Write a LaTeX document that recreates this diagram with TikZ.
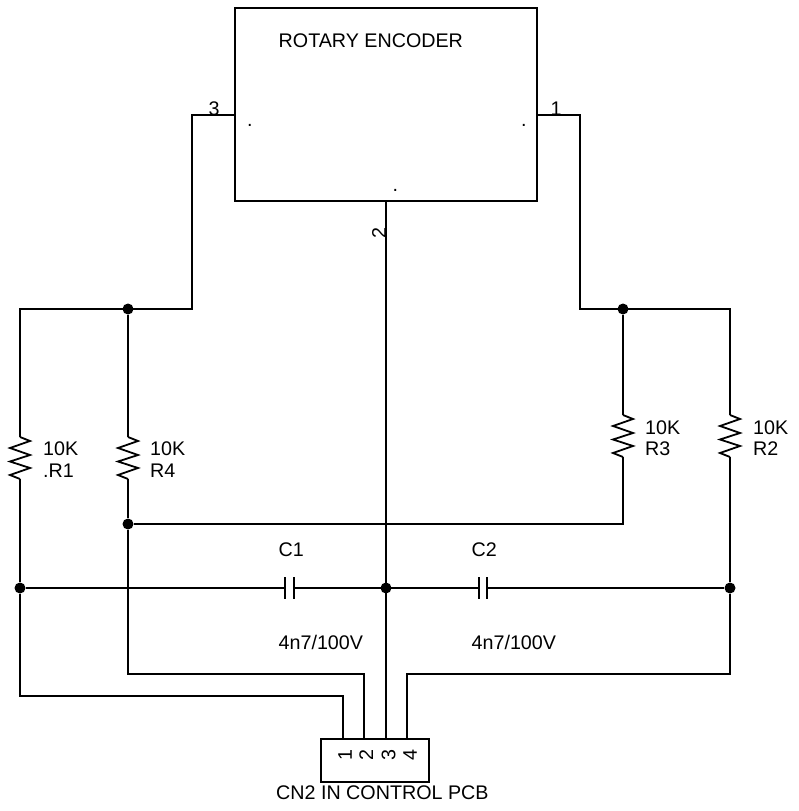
\documentclass[tikz,border=0pt]{standalone}
\usepackage{fontspec}
\setmainfont{Liberation Sans}
\tikzset{
  wire/.style={line width=1.8pt,line join=miter},
  junc/.style={circle,fill=black,draw=none,inner sep=0pt,minimum size=11pt},
  lab/.style={inner sep=0pt,anchor=base west,font=\fontsize{19.7pt}{22pt}\selectfont},
  pin/.style={inner sep=0pt,font=\fontsize{19.7pt}{22pt}\selectfont,rotate=90},
  pinh/.style={inner sep=0pt,anchor=base,font=\fontsize{19.7pt}{22pt}\selectfont}
}
\newcommand{\zig}[3]{% x, y top, name
  \draw[wire] (#1,#2) -- ++(10,4) -- ++(-20,7) -- ++(20,7) -- ++(-20,6.5) -- ++(20,6.5) -- ++(-20,7) -- ++(10,4) coordinate (#3);
}
\begin{document}
\begin{tikzpicture}[x=1pt,y=-1pt]
\useasboundingbox (0,0) rectangle (798,811);
\fill[white] (0,0) rectangle (798,811);
% Encoder and connector
\node[draw,line width=1.8pt,minimum width=302pt,minimum height=193pt,inner sep=0pt] (enc) at (386,104.5) {};
\node[draw,line width=1.8pt,minimum width=108pt,minimum height=43pt,inner sep=0pt] (cn) at (375,760.5) {};
\node[lab] (title) at (278.5,47) {ROTARY ENCODER};
\node[lab] (cnlab) at (276,799) {CN2 IN CONTROL PCB};
% routing coordinates
\coordinate (p3) at (235,115);
\coordinate (p1) at (537,115);
\coordinate (p2) at (386,201);
\coordinate (c1) at (343,739);
\coordinate (c2) at (364,739);
\coordinate (c3) at (386,739);
\coordinate (c4) at (407,739);
% junctions
\node[junc] (jl) at (128,309) {};
\node[junc] (jr) at (623,309) {};
\node[junc] (jr4) at (128,524) {};
\node[junc] (ja) at (20,588) {};
\node[junc] (jm) at (386,588) {};
\node[junc] (jb) at (730,588) {};
% resistors
\coordinate (r1t) at (20,437);
\coordinate (r4t) at (128,437);
\coordinate (r3t) at (623,415);
\coordinate (r2t) at (730,415);
\zig{20}{437}{r1b}
\zig{128}{437}{r4b}
\zig{623}{415}{r3b}
\zig{730}{415}{r2b}
% wires
\draw[wire] (p3) -- (192,115) -- (192,309) -- (20,309) -- (r1t);
\draw[wire] (jl) -- (r4t);
\draw[wire] (p1) -- (580,115) -- (580,309) -- (730,309) -- (r2t);
\draw[wire] (jr) -- (r3t);
\draw[wire] (r1b) -- (ja) -- (20,696) -- (343,696) -- (c1);
\draw[wire] (r4b) -- (jr4) -- (128,674) -- (364,674) -- (c2);
\draw[wire] (r3b) -- (623,524) -- (jr4);
\draw[wire] (r2b) -- (jb) -- (730,674) -- (407,674) -- (c4);
\draw[wire] (p2) -- (c3);
% capacitors
\coordinate (c1a) at (285,588);
\coordinate (c1b) at (294,588);
\coordinate (c2a) at (479,588);
\coordinate (c2b) at (487,588);
\draw[wire] (ja) -- (c1a);
\draw[wire] (c1b) -- (c2a);
\draw[wire] (c2b) -- (jb);
\draw[wire] (285,577) -- (285,599);
\draw[wire] (294,577) -- (294,599);
\draw[wire] (479,577) -- (479,599);
\draw[wire] (487,577) -- (487,599);
% labels
\node[lab] (r1a) at (43,455) {10K};
\node[lab] (r1n) at (43,477) {.R1};
\node[lab] (r4a) at (150,455) {10K};
\node[lab] (r4n) at (150,477) {R4};
\node[lab] (r3a) at (645,434) {10K};
\node[lab] (r3n) at (645,455) {R3};
\node[lab] (r2a) at (753,434) {10K};
\node[lab] (r2n) at (753,455) {R2};
\node[lab] (c1l) at (278.5,556) {C1};
\node[lab] (c2l) at (471.5,556) {C2};
\node[lab] (c1v) at (278.5,649) {4n7/100V};
\node[lab] (c2v) at (471.5,649) {4n7/100V};
\node[pinh] (n3) at (214,115) {3};
\node[pinh] (n1) at (556,115) {1};
\node[pin] (n2) at (379,233) {2};
\node[pin] (k1) at (345,755) {1};
\node[pin] (k2) at (366.3,755) {2};
\node[pin] (k3) at (388.7,755) {3};
\node[pin] (k4) at (410,755) {4};
\node[lab] (d1) at (247,126) {.};
\node[lab] (d2) at (521,126) {.};
\node[lab] (d3) at (392.5,191.5) {.};
\end{tikzpicture}
\end{document}
